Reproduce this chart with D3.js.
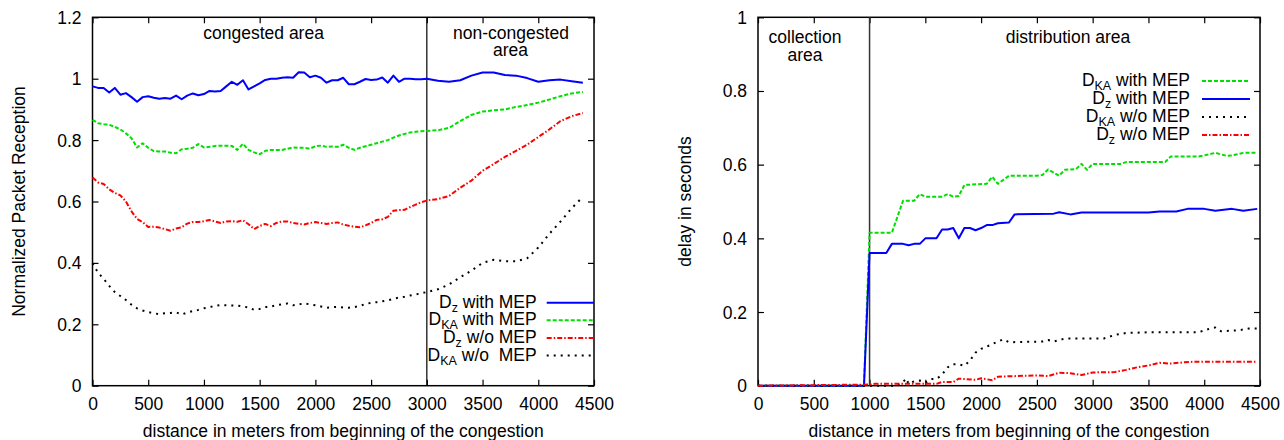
<!DOCTYPE html>
<html><head><meta charset="utf-8">
<script src="https://cdn.jsdelivr.net/npm/d3@7"></script>
<style>
body{margin:0;background:#fff;}
text{font-family:"Liberation Sans",Arial,Helvetica,sans-serif;white-space:pre;fill:#000;}
</style></head>
<body><svg id="c" width="1284" height="440"></svg>
<script>
// ---------------- data ----------------
const xTicks = [0,500,1000,1500,2000,2500,3000,3500,4000,4500];
const leftYTicks = [0,0.2,0.4,0.6,0.8,1,1.2];
const rightYTicks = [0,0.2,0.4,0.6,0.8,1];
const yTickLabelsLeft = ["0","0.2","0.4","0.6","0.8","1","1.2"];
const yTickLabelsRight = ["0","0.2","0.4","0.6","0.8","1"];

const leftDist = [0,50,100,150,200,250,300,350,400,450,500,550,600,650,700,750,800,850,900,950,
 1000,1050,1100,1150,1200,1250,1300,1350,1400,1450,1500,1550,1600,1650,1700,1750,1800,1850,1900,1950,
 2000,2050,2100,2150,2200,2250,2300,2350,2400,2450,2500,2550,2600,2650,2700,2750,2800,2850,2900,2950,
 3000,3100,3200,3300,3400,3500,3600,3700,3800,3900,4000,4100,4200,4300,4400];

const leftDzMep = [0.975,0.97,0.97,0.955,0.97,0.948,0.953,0.94,0.925,0.94,
 0.943,0.938,0.935,0.937,0.935,0.945,0.933,0.945,0.952,0.946,
 0.95,0.96,0.958,0.96,0.975,0.99,0.98,0.995,0.965,0.975,
 0.985,0.996,1.0,1.0,1.003,1.005,1.003,1.021,1.02,1.005,
 1.01,1.003,0.987,0.995,0.995,1.003,0.982,0.982,0.99,0.999,
 0.996,0.997,1.004,0.987,1.01,0.99,1.0,1.0,0.998,0.998,
 1.0,0.993,0.99,0.995,1.01,1.02,1.02,1.012,1.01,1.002,0.99,0.995,0.997,0.992,0.987];

const leftDkaMep = [0.866,0.855,0.852,0.85,0.843,0.835,0.822,0.806,0.776,0.79,
 0.775,0.764,0.763,0.763,0.759,0.757,0.77,0.772,0.775,0.787,
 0.776,0.778,0.781,0.782,0.782,0.781,0.768,0.788,0.768,0.76,
 0.754,0.765,0.768,0.768,0.768,0.772,0.776,0.775,0.775,0.772,
 0.78,0.782,0.778,0.779,0.778,0.785,0.775,0.768,0.775,0.78,
 0.785,0.79,0.795,0.8,0.808,0.815,0.82,0.825,0.827,0.829,
 0.83,0.832,0.84,0.862,0.882,0.893,0.897,0.9,0.908,0.914,0.922,0.932,0.943,0.952,0.957];

const leftDzNoMep = [0.678,0.662,0.657,0.64,0.628,0.62,0.6,0.568,0.543,0.533,
 0.517,0.518,0.515,0.51,0.505,0.512,0.516,0.528,0.533,0.533,
 0.536,0.54,0.535,0.53,0.535,0.536,0.534,0.539,0.526,0.51,
 0.52,0.527,0.52,0.53,0.535,0.535,0.53,0.527,0.525,0.53,
 0.533,0.53,0.527,0.53,0.532,0.525,0.521,0.518,0.516,0.522,
 0.53,0.54,0.542,0.55,0.57,0.572,0.573,0.582,0.59,0.598,
 0.603,0.608,0.618,0.645,0.668,0.7,0.722,0.745,0.765,0.785,0.81,0.835,0.862,0.878,0.888];

const leftDkaNoMep = [0.399,0.368,0.348,0.325,0.305,0.292,0.279,0.264,0.252,0.245,
 0.24,0.236,0.233,0.236,0.237,0.239,0.232,0.238,0.243,0.247,
 0.252,0.256,0.26,0.263,0.262,0.261,0.261,0.258,0.255,0.247,
 0.25,0.256,0.258,0.262,0.265,0.268,0.262,0.265,0.268,0.265,
 0.262,0.258,0.254,0.256,0.257,0.255,0.254,0.256,0.26,0.266,
 0.27,0.272,0.275,0.278,0.283,0.287,0.29,0.294,0.297,0.301,
 0.305,0.314,0.33,0.353,0.375,0.4,0.41,0.405,0.405,0.415,0.45,0.495,0.535,0.578,0.615];

const rightDkaMep = [[0,0],[950,0],[1000,0.415],[1200,0.415],[1300,0.502],[1400,0.502],[1450,0.52],[1500,0.513],
 [1650,0.513],[1700,0.52],[1750,0.513],[1800,0.515],[1850,0.545],[2050,0.548],[2100,0.567],[2150,0.548],
 [2250,0.57],[2500,0.57],[2550,0.572],[2600,0.587],[2700,0.57],[2750,0.586],[2850,0.588],[2900,0.602],
 [2950,0.586],[3000,0.602],[3250,0.602],[3300,0.607],[3650,0.607],[3700,0.622],[3950,0.622],[4000,0.625],
 [4100,0.632],[4200,0.624],[4250,0.625],[4350,0.632],[4475,0.632]];
const rightDzMep = [[0,0],[950,0],[1000,0.36],[1150,0.36],[1200,0.385],[1300,0.385],[1350,0.381],[1400,0.385],
 [1450,0.385],[1500,0.4],[1600,0.4],[1650,0.424],[1700,0.424],[1750,0.428],[1800,0.4],[1850,0.428],[1900,0.428],
 [1950,0.422],[2000,0.428],[2050,0.436],[2100,0.436],[2150,0.441],[2250,0.443],[2300,0.465],[2650,0.467],
 [2700,0.471],[2800,0.465],[2900,0.47],[3500,0.47],[3600,0.473],[3750,0.473],[3850,0.48],[4000,0.48],
 [4100,0.475],[4250,0.48],[4350,0.475],[4475,0.48]];
const rightDkaNoMep = [[0,0],[1250,0],[1300,0.01],[1330,0.02],[1350,0.005],[1400,0.012],[1450,0.014],[1500,0.008],
 [1550,0.018],[1600,0.018],[1650,0.03],[1700,0.05],[1750,0.058],[1800,0.058],[1850,0.054],[1900,0.068],
 [1950,0.09],[2000,0.1],[2050,0.106],[2100,0.113],[2150,0.12],[2200,0.126],[2250,0.118],[2550,0.12],
 [2600,0.124],[2650,0.12],[2750,0.128],[3100,0.128],[3200,0.138],[3300,0.143],[3500,0.145],[3950,0.145],
 [4050,0.155],[4100,0.158],[4150,0.148],[4300,0.15],[4400,0.155],[4475,0.155]];
const rightDzNoMep = [[0,0],[1000,0.003],[1050,0.005],[1600,0.005],[1650,0.01],[1750,0.01],[1800,0.019],
 [1950,0.016],[2000,0.02],[2100,0.015],[2150,0.024],[2200,0.025],[2500,0.028],[2600,0.026],[2700,0.035],
 [2800,0.034],[2900,0.029],[3000,0.036],[3200,0.037],[3300,0.043],[3400,0.05],[3500,0.055],[3600,0.062],
 [3700,0.06],[3800,0.063],[3900,0.065],[4475,0.065]];

// ---------------- styles ----------------
const ST = {
  dzMep:   {color:"#0000ff", dash:null},
  dkaMep:  {color:"#00e000", dash:"4,2"},
  dzNoMep: {color:"#ff0000", dash:"5,2,1.5,2"},
  dkaNoMep:{color:"#000000", dash:"2,5"}
};
const FS = 17.5;
const svg = d3.select("#c");

function label(g, parts, x, y, anchor){
  const t = g.append("text").attr("x",x).attr("y",y).attr("text-anchor",anchor).style("font-size",FS+"px");
  t.append("tspan").text(parts[0]);
  t.append("tspan").attr("dy",4).style("font-size","12.5px").text(parts[1]);
  t.append("tspan").attr("dy",-4).text(parts[2]);
}

function panel(o, id){
  const x = d3.scaleLinear().domain([0,4500]).range([o.x0,o.x1]);
  const y = d3.scaleLinear().domain([0,o.yMax]).range([o.y1,o.y0]);
  const g = svg.append("g");

  const ax = [
    [d3.axisBottom(x).tickValues(xTicks).tickFormat(d3.format("d")), `translate(0,${o.y1})`, "b"],
    [d3.axisTop(x).tickValues(xTicks).tickFormat(""), `translate(0,${o.y0})`, "t"],
    [d3.axisLeft(y).tickValues(o.yTicks).tickFormat((d,i)=>o.yLabels[i]), `translate(${o.x0},0)`, "l"],
    [d3.axisRight(y).tickValues(o.yTicks).tickFormat(""), `translate(${o.x1},0)`, "r"]
  ];
  ax.forEach(([a,tr,k])=>{
    const ag = g.append("g").attr("transform",tr)
      .call(a.tickSizeInner(-6).tickSizeOuter(0).tickPadding(k==="l"?11:0));
    ag.select(".domain").remove();
    ag.selectAll("line").attr("stroke","#000").attr("stroke-width",1.2);
    ag.selectAll("text").style("font-size",FS+"px").attr("fill","#000")
      .attr("font-family",null);
    if(k==="b") ag.selectAll("text").attr("dy",null).attr("y",24.5);
    if(k==="l") ag.selectAll("text").attr("dy",null).attr("y",6);
  });

  g.append("rect").attr("x",o.x0).attr("y",o.y0).attr("width",o.x1-o.x0).attr("height",o.y1-o.y0)
    .attr("fill","none").attr("stroke","#000").attr("stroke-width",1.5);

  g.append("line").attr("x1",x(o.divider)).attr("x2",x(o.divider)).attr("y1",o.y0).attr("y2",o.y1)
    .attr("stroke",o.dividerColor).attr("stroke-width",o.dividerWidth);

  svg.append("clipPath").attr("id","clip"+id).append("rect")
    .attr("x",o.x0-2).attr("y",o.y0-2).attr("width",o.x1-o.x0+4).attr("height",o.y1-o.y0+4);
  const line = d3.line().x(d=>x(d[0])).y(d=>y(d[1]));
  const lg = g.append("g").attr("clip-path",`url(#clip${id})`);
  o.series.forEach(s=>{
    lg.append("path").datum(s.pts).attr("d",line).attr("fill","none")
      .attr("stroke",s.st.color).attr("stroke-width",2)
      .attr("stroke-dasharray",s.st.dash).attr("stroke-linejoin","round");
  });

  o.legend.forEach((s,i)=>{
    const ry = o.legRows[i];
    label(g, s.label, o.legText, ry+5, "end");
    g.append("line").attr("x1",o.legX0).attr("x2",o.legX1).attr("y1",ry).attr("y2",ry)
      .attr("stroke",s.st.color).attr("stroke-width",2).attr("stroke-dasharray",s.st.dash);
  });

  o.notes.forEach(n=>{
    g.append("text").attr("x",n[0]).attr("y",n[1]).attr("text-anchor","middle")
      .style("font-size",FS+"px").text(n[2]);
  });

  g.append("text").attr("x",(o.x0+o.x1)/2).attr("y",436.5).attr("text-anchor","middle")
    .style("font-size",FS+"px").text("distance in meters from beginning of the congestion");
  g.append("text").attr("transform",`translate(${o.yTitleX},${(o.y0+o.y1)/2}) rotate(-90)`)
    .attr("text-anchor","middle").style("font-size",FS+"px").text(o.yTitle);
}

const mk = (dist, vals) => dist.map((d,i)=>[d, vals[i]]);

const L = {
  dzMep:{pts:mk(leftDist,leftDzMep), st:ST.dzMep, label:["D","z"," with MEP"]},
  dkaMep:{pts:mk(leftDist,leftDkaMep), st:ST.dkaMep, label:["D","KA"," with MEP"]},
  dzNo:{pts:mk(leftDist,leftDzNoMep), st:ST.dzNoMep, label:["D","z"," w/o MEP"]},
  dkaNo:{pts:mk(leftDist,leftDkaNoMep), st:ST.dkaNoMep, label:["D","KA"," w/o  MEP"]}
};
panel({
  x0:92.5, x1:594, y0:17.3, y1:385.7, yMax:1.2, yTicks:leftYTicks, yLabels:yTickLabelsLeft,
  divider:3000, dividerColor:"#000", dividerWidth:1.2,
  series:[L.dzMep, L.dkaMep, L.dzNo, L.dkaNo],
  legend:[L.dzMep, L.dkaMep, L.dzNo, L.dkaNo],
  legText:536.7, legX0:546.7, legX1:594, legRows:[302.7,320.3,337.9,355.5],
  notes:[[263.6,38.5,"congested area"],[511,38.5,"non-congested"],[510.5,56,"area"]],
  yTitle:"Normalized Packet Reception", yTitleX:24.5
}, "L");

const R = {
  dkaMep:{pts:rightDkaMep, st:ST.dkaMep, label:["D","KA"," with MEP"]},
  dzMep:{pts:rightDzMep, st:ST.dzMep, label:["D","z"," with MEP"]},
  dkaNo:{pts:rightDkaNoMep, st:ST.dkaNoMep, label:["D","KA"," w/o MEP"]},
  dzNo:{pts:rightDzNoMep, st:ST.dzNoMep, label:["D","z"," w/o MEP"]}
};
panel({
  x0:758, x1:1260, y0:17.3, y1:385.7, yMax:1, yTicks:rightYTicks, yLabels:yTickLabelsRight,
  divider:1000, dividerColor:"#333", dividerWidth:1.5,
  series:[R.dkaMep, R.dzMep, R.dkaNo, R.dzNo],
  legend:[R.dkaMep, R.dzMep, R.dkaNo, R.dzNo],
  legText:1190, legX0:1202, legX1:1250, legRows:[81,99,117,135],
  notes:[[805,42.5,"collection"],[805,61,"area"],[1068,42.5,"distribution area"]],
  yTitle:"delay in seconds", yTitleX:691
}, "R");
</script></body></html>
